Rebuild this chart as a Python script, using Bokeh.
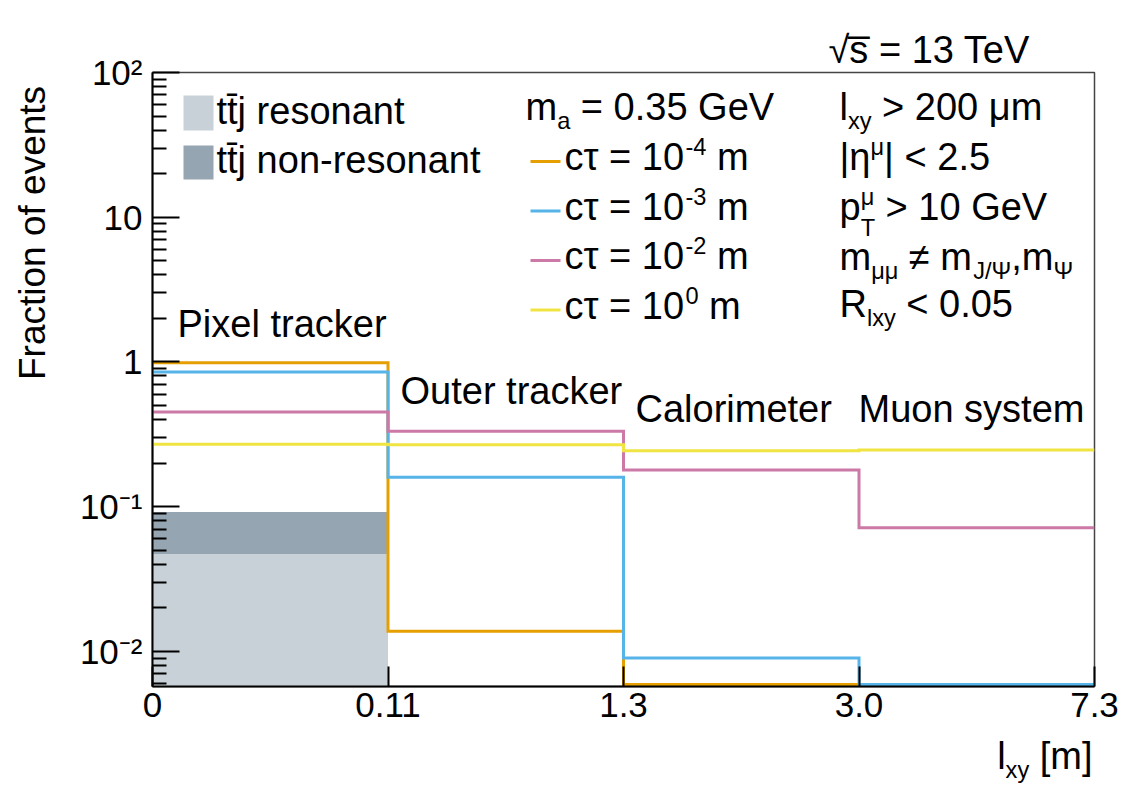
from math import pi, log10

from bokeh.plotting import figure
from bokeh.layouts import row, column
from bokeh.models import (Range1d, FixedTicker, Label, BoxAnnotation, Title,
                          CustomJSTickFormatter)
from bokeh.embed import file_html
from bokeh.resources import INLINE

# l_xy bin edges (bins are shown with equal widths) and detector regions
edge_labels = ["0", "0.11", "1.3", "3.0", "7.3"]
regions = ["Pixel tracker", "Outer tracker", "Calorimeter", "Muon system"]

# fraction of signal events per l_xy bin, m_a = 0.35 GeV
ctau_1e4 = [0.986, 0.0138, 0.0, 0.0]
ctau_1e3 = [0.853, 0.160, 0.0090, 0.0]
ctau_1e2 = [0.451, 0.332, 0.179, 0.0715]
ctau_1e0 = [0.270, 0.268, 0.243, 0.246]

# ttj background, stacked
ttj_resonant = [0.047, 0.0, 0.0, 0.0]
ttj_nonresonant = [0.045, 0.0, 0.0, 0.0]

y_ticks = [1e-2, 1e-1, 1.0, 10.0, 100.0]
y_tick_labels = ["10\u207b\u00b2", "10\u207b\u00b9", "1", "10", "10\u00b2"]

Y_MIN, Y_MAX = 0.00572, 100.0

ORANGE, BLUE, PINK, YELLOW = "#E69F00", "#56B4E9", "#CC79A7", "#F0E442"
LIGHT, DARK = "#C7D1D7", "#95A5B1"
FONT = "Liberation Sans"
S = 38  # main text size, px
BASE_SHIFT = 0.37  # label anchor -> drawn baseline offset, in em

# page geometry (canvas pixels)
W, H = 1122, 785
LW = 60           # strip holding the y title
BH = 50           # strip holding the x title
FL, FR, FT, FB = 152, 1094, 72, 686

# empty bins are drawn resting just above the x axis line
EMPTY_FLOOR = Y_MIN * 10 ** (2.0 / (FB - FT) * (log10(Y_MAX) - log10(Y_MIN)))

p = figure(width=W - LW, height=H - BH, x_range=Range1d(0, 4),
           y_range=Range1d(Y_MIN, Y_MAX), y_axis_type="log", title=None,
           output_backend="svg", toolbar_location=None,
           min_border_left=FL - LW, min_border_right=W - FR, min_border_top=FT,
           min_border_bottom=H - BH - FB, background_fill_color="white",
           border_fill_color="white")
p.xgrid.visible = False
p.ygrid.visible = False
p.outline_line_color = "#444444"
p.outline_line_width = 1.5

# stacked ttj fills
n = len(regions)
lefts = list(range(n))
rights = [i + 1 for i in range(n)]
res_top = [max(v, Y_MIN) for v in ttj_resonant]
non_top = [max(r + v, Y_MIN) for r, v in zip(ttj_resonant, ttj_nonresonant)]
p.quad(left=lefts, right=rights, bottom=[Y_MIN] * n, top=res_top,
       fill_color=LIGHT, line_color=None)
p.quad(left=lefts, right=rights, bottom=res_top, top=non_top,
       fill_color=DARK, line_color=None)


def step_xy(vals):
    xs, ys = [], []
    for i, v in enumerate(vals):
        v = max(v, EMPTY_FLOOR)
        xs += [i, i + 1]
        ys += [v, v]
    return xs, ys


series = [(ctau_1e4, ORANGE, "-4"), (ctau_1e3, BLUE, "-3"),
          (ctau_1e2, PINK, "-2"), (ctau_1e0, YELLOW, "0")]
for vals, col, _ in series:
    xs, ys = step_xy(vals)
    p.line(xs, ys, line_color=col, line_width=3, line_join="miter")

# axes
xa = p.xaxis[0]
xa.ticker = FixedTicker(ticks=list(range(len(edge_labels))))
xa.major_label_overrides = {i: s for i, s in enumerate(edge_labels)}
xa.major_tick_in = 20
xa.major_tick_out = 0
xa.minor_tick_line_color = None
xa.axis_line_width = 2
xa.major_tick_line_width = 2
xa.major_label_text_font = FONT
xa.major_label_text_font_size = "35px"
xa.major_label_text_color = "black"
xa.major_label_standoff = 6

ya = p.yaxis[0]
ya.ticker = FixedTicker(ticks=y_ticks,
                        minor_ticks=[m * 10.0 ** e for e in range(-3, 2) for m in range(2, 10)])
ya.formatter = CustomJSTickFormatter(args=dict(labels=y_tick_labels),
                                     code="return labels[Math.round(Math.log10(tick)) + 2];")
ya.major_label_text_font = FONT
ya.major_label_text_font_size = "35px"
ya.major_label_text_color = "black"
ya.major_label_standoff = 10
ya.major_tick_in = 27
ya.major_tick_out = 0
ya.minor_tick_in = 14
ya.minor_tick_out = 0
ya.axis_line_width = 2
ya.major_tick_line_width = 2
ya.minor_tick_line_width = 2

p.add_layout(Title(text="\u221as\u0305 = 13 TeV", align="left", offset=828 - FL,
                   standoff=4, vertical_align="bottom", text_font=FONT,
                   text_font_size=f"{S}px", text_font_style="normal",
                   text_color="black"), "above")

# Arial / Liberation Sans advance widths (1/1000 em)
ADV = {" ": 278, ".": 278, ",": 278, "-": 333, "/": 278, "[": 278, "]": 278,
       "|": 260, "=": 584, "<": 584, ">": 584, "\u2260": 584,
       "a": 556, "c": 500, "e": 556, "j": 222, "l": 222, "m": 833, "n": 556, "o": 556,
       "p": 556, "r": 333, "s": 500, "t": 278, "x": 500, "y": 500, "i": 222, "k": 500,
       "v": 500, "f": 278, "F": 611,
       "G": 778, "V": 667, "T": 611, "R": 722, "J": 500, "\u03c4": 430, "\u03b7": 556,
       "\u03bc": 576, "\u03a8": 833, "\u0304": 0}
ROLES = {"n": (1.0, 0.0), "sup": (0.62, -0.42), "sub": (0.62, 0.22), "low": (0.62, 0.40)}


def tw(s, size):
    return sum(ADV.get(ch, 556) for ch in s) * size / 1000.0


def frame_xy(cx, cy):
    # canvas pixel -> screen units of the main frame
    return cx - FL, FB - cy


def put(fig, text, cx, cy, size, angle=0.0, units="screen"):
    # every label is left-anchored; positions come from the width table above
    lead = len(text) - len(text.lstrip(" "))
    text = text.strip(" ")
    if angle:
        cy -= lead * 0.278 * size
        cx -= BASE_SHIFT * size
    else:
        cx += lead * 0.278 * size
        cy -= BASE_SHIFT * size
    if units == "screen":
        x, y = frame_xy(cx, cy)
    else:
        x, y = cx, cy
    fig.add_layout(Label(x=x, y=y, x_units=units, y_units=units, text=text,
                         text_font=FONT, text_font_size=f"{size:.1f}px",
                         text_color="black", text_align="left",
                         text_baseline="alphabetic", angle=angle))


def rich(fig, parts, cx, cy, size, align="left", units="screen"):
    """parts: (text, role) or ((sup, sub), 'stack')"""
    def adv(part):
        t, role = part
        if role == "stack":
            return max(tw(t[0], size * 0.62), tw(t[1], size * 0.62))
        return tw(t, size * ROLES[role][0])
    total = sum(adv(pt) for pt in parts)
    x = cx - total if align == "right" else cx
    for pt in parts:
        t, role = pt
        if role == "stack":
            put(fig, t[0], x, cy + ROLES["sup"][1] * size, size * 0.62, units=units)
            put(fig, t[1], x, cy + ROLES["low"][1] * size, size * 0.62, units=units)
        else:
            sc, dy = ROLES[role]
            put(fig, t, x, cy + dy * size, size * sc, units=units)
        x += adv(pt)


def to_data(cx, cy):
    # canvas pixel -> data coordinates of the main frame (legend layout only)
    fx = (cx - FL) / (FR - FL) * 4
    frac = (FB - cy) / (FB - FT)
    fy = 10 ** (log10(Y_MIN) + frac * (log10(Y_MAX) - log10(Y_MIN)))
    return fx, fy


# detector region names
for name, (cx, cy) in zip(regions, [(177, 338), (400, 405), (635, 423), (858, 423)]):
    put(p, name, cx, cy, S)


# background legend
def box(x0, y0, x1, y1, color):
    (l, t), (r, b) = frame_xy(x0, y0), frame_xy(x1, y1)
    p.add_layout(BoxAnnotation(left=l, right=r, top=t, bottom=b,
                               left_units="screen", right_units="screen",
                               top_units="screen", bottom_units="screen",
                               fill_color=color, fill_alpha=1.0, line_color=None))


box(183, 95, 213, 130, LIGHT)
box(183, 145, 213, 179, DARK)
put(p, "tt\u0304j resonant", 216, 125, S)
put(p, "tt\u0304j non-resonant", 216, 174, S)

# signal legend
rich(p, [("m", "n"), ("a", "sub"), (" = 0.35 GeV", "n")], 525, 121, S)
for i, (_, col, ex) in enumerate(series):
    base = 171 + 49.5 * i
    (sx0, sy0), (sx1, _) = to_data(530, base - 10), to_data(560, base - 10)
    p.segment(x0=[sx0], y0=[sy0], x1=[sx1], y1=[sy0], line_color=col, line_width=3)
    rich(p, [("c\u03c4 = 10", "n"), (ex, "sup"), (" m", "n")], 564, base, S)

# selection summary
rich(p, [("l", "n"), ("xy", "sub"), (" > 200 \u03bcm", "n")], 839, 121, S)
rich(p, [("|\u03b7", "n"), ("\u03bc", "sup"), ("| < 2.5", "n")], 839, 171, S)
rich(p, [("p", "n"), (("\u03bc", "T"), "stack"), (" > 10 GeV", "n")], 839, 221, S)
rich(p, [("m", "n"), ("\u03bc\u03bc", "sub"), (" \u2260 m", "n"), ("J/\u03a8", "sub"),
         (",m", "n"), ("\u03a8", "sub")], 839, 271, S)
rich(p, [("R", "n"), ("lxy", "sub"), (" < 0.05", "n")], 839, 318, S)


def strip_fig(width, height, x0, y0):
    f = figure(width=width, height=height, x_range=Range1d(x0, x0 + width),
               y_range=Range1d(y0 + height, y0), title=None,
               x_axis_location=None, y_axis_location=None,
               output_backend="svg", toolbar_location=None,
               min_border=0, min_border_left=0, min_border_right=0,
               min_border_top=0, min_border_bottom=0,
               background_fill_color="white", border_fill_color="white")
    f.outline_line_color = None
    f.xgrid.visible = False
    f.ygrid.visible = False
    return f


# y title strip (left): text runs upwards and ends level with the frame top
left = strip_fig(LW, H - BH, 0, 0)
y_title = "Fraction of events"
YS = 37
put(left, y_title, 46, 74 + tw(y_title, YS), YS, angle=pi / 2, units="data")

# x title strip (below, full width), right-aligned to the frame edge
bottom = strip_fig(W, BH, 0, H - BH)
rich(bottom, [("l", "n"), ("xy", "sub"), (" [m]", "n")], 1092, 770, S, align="right",
     units="data")

layout = column(row(left, p, spacing=0), bottom, spacing=0)
open("out.html", "w").write(file_html(layout, INLINE))
